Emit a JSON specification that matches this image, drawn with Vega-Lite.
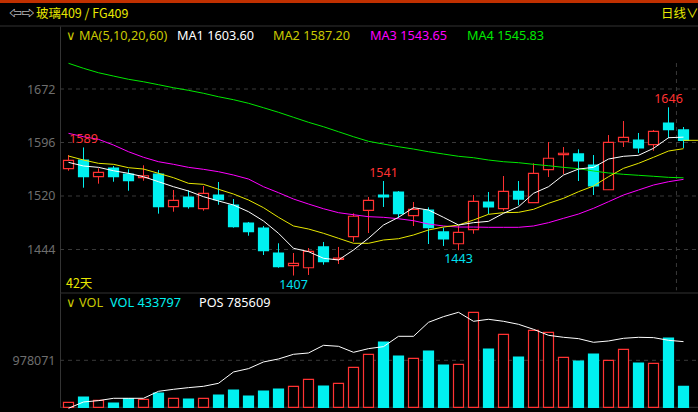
{
"$schema":"https://vega.github.io/schema/vega-lite/v6.json",
"width":698,"height":412,"padding":0,
"autosize":"none",
"background":"#000000",
"view":{"stroke":null},
"datasets":{
"bars":[
{"i":0,"dir":"up","open":1558.8,"close":1570.7,"high":1578.2,"low":1555.9,"ma1":1567.8,"ma2":1576.8,"ma3":1609,"ma4":1708.5,"vol":104000,"pos":89600},
{"i":1,"dir":"down","open":1571.1,"close":1547.4,"high":1589,"low":1531.8,"ma1":1562.6,"ma2":1571.1,"ma3":1604.2,"ma4":1701.4,"vol":214400,"pos":155700},
{"i":2,"dir":"up","open":1547.4,"close":1553.7,"high":1559.3,"low":1537.5,"ma1":1560.7,"ma2":1566.4,"ma3":1600.5,"ma4":1695.1,"vol":145700,"pos":169600},
{"i":3,"dir":"down","open":1559.8,"close":1547.4,"high":1562.6,"low":1540.3,"ma1":1555.9,"ma2":1565,"ma3":1592.4,"ma4":1690.4,"vol":89500,"pos":194000},
{"i":4,"dir":"down","open":1551.2,"close":1541.7,"high":1557.9,"low":1527.5,"ma1":1552.2,"ma2":1560.2,"ma3":1582.9,"ma4":1685.8,"vol":181100,"pos":194000},
{"i":5,"dir":"up","open":1546,"close":1548.8,"high":1563.6,"low":1541.7,"ma1":1547.4,"ma2":1558.3,"ma3":1575,"ma4":1682.3,"vol":166500,"pos":194000},
{"i":6,"dir":"down","open":1551.2,"close":1504.8,"high":1556.9,"low":1494.9,"ma1":1540.3,"ma2":1552.2,"ma3":1568.7,"ma4":1678.1,"vol":297600,"pos":267000},
{"i":7,"dir":"up","open":1504.8,"close":1513.9,"high":1528.5,"low":1497.7,"ma1":1533.2,"ma2":1546,"ma3":1565,"ma4":1673.8,"vol":187300,"pos":287900},
{"i":8,"dir":"down","open":1518.6,"close":1504.8,"high":1528.1,"low":1502,"ma1":1527.1,"ma2":1538,"ma3":1560.7,"ma4":1670.1,"vol":172700,"pos":305300},
{"i":9,"dir":"up","open":1502,"close":1523.8,"high":1534.2,"low":1499.1,"ma1":1519,"ma2":1536.6,"ma3":1557.9,"ma4":1665.9,"vol":187300,"pos":319200},
{"i":10,"dir":"down","open":1521.4,"close":1514.7,"high":1539.9,"low":1507.6,"ma1":1512.9,"ma2":1529.5,"ma3":1554.5,"ma4":1661,"vol":256000,"pos":350600},
{"i":11,"dir":"down","open":1507.2,"close":1476.4,"high":1515.7,"low":1475,"ma1":1507.2,"ma2":1522.8,"ma3":1549.8,"ma4":1656.8,"vol":360000,"pos":468900},
{"i":12,"dir":"down","open":1481.6,"close":1469.3,"high":1483.1,"low":1463.6,"ma1":1497.7,"ma2":1514.3,"ma3":1544.1,"ma4":1651.7,"vol":235200,"pos":503700},
{"i":13,"dir":"down","open":1474.5,"close":1442.3,"high":1477.4,"low":1436.2,"ma1":1484.5,"ma2":1503.4,"ma3":1533.2,"ma4":1645.4,"vol":339200,"pos":573300},
{"i":14,"dir":"down","open":1439,"close":1419.6,"high":1452.8,"low":1418.1,"ma1":1467,"ma2":1489.7,"ma3":1524.7,"ma4":1638.9,"vol":380900,"pos":604600},
{"i":15,"dir":"up","open":1421,"close":1424.4,"high":1439,"low":1407,"ma1":1445.7,"ma2":1477.4,"ma3":1515.7,"ma4":1631.8,"vol":437100,"pos":653300},
{"i":16,"dir":"up","open":1418.1,"close":1441.4,"high":1446.1,"low":1407.8,"ma1":1440.9,"ma2":1473.1,"ma3":1508.6,"ma4":1624.7,"vol":582700,"pos":667200},
{"i":17,"dir":"down","open":1447.6,"close":1426.7,"high":1454.7,"low":1422.4,"ma1":1431.5,"ma2":1467,"ma3":1501.9,"ma4":1618.4,"vol":443300,"pos":747300},
{"i":18,"dir":"up","open":1430.1,"close":1431.9,"high":1447.6,"low":1423.4,"ma1":1429.1,"ma2":1459.9,"ma3":1496.3,"ma4":1611.3,"vol":499500,"pos":736800},
{"i":19,"dir":"up","open":1462.2,"close":1491.2,"high":1495.4,"low":1455.1,"ma1":1443.3,"ma2":1452.8,"ma3":1493.4,"ma4":1604.2,"vol":832500,"pos":674200},
{"i":20,"dir":"up","open":1499.7,"close":1513.9,"high":1518.6,"low":1467.4,"ma1":1459.9,"ma2":1452.8,"ma3":1490.6,"ma4":1597.7,"vol":1103000,"pos":712500},
{"i":21,"dir":"down","open":1521.4,"close":1518.6,"high":1541.3,"low":1504.4,"ma1":1478.8,"ma2":1457.5,"ma3":1489.7,"ma4":1593.8,"vol":1359000,"pos":733400},
{"i":22,"dir":"down","open":1525.7,"close":1494.9,"high":1527.1,"low":1488.7,"ma1":1489.7,"ma2":1459.3,"ma3":1487.7,"ma4":1590,"vol":1067600,"pos":841200},
{"i":23,"dir":"up","open":1492,"close":1501.1,"high":1511.5,"low":1477.4,"ma1":1503.4,"ma2":1464.6,"ma3":1484.9,"ma4":1586.7,"vol":1019800,"pos":841200},
{"i":24,"dir":"down","open":1500.1,"close":1475,"high":1503.9,"low":1451.8,"ma1":1500.1,"ma2":1471.7,"ma3":1480.2,"ma4":1582.9,"vol":1171700,"pos":987400},
{"i":25,"dir":"down","open":1468.9,"close":1458.9,"high":1475,"low":1449,"ma1":1489.7,"ma2":1475.9,"ma3":1477.4,"ma4":1579.6,"vol":880300,"pos":1046600},
{"i":26,"dir":"up","open":1452.2,"close":1468.4,"high":1477.4,"low":1443,"ma1":1478.8,"ma2":1478.8,"ma3":1475.9,"ma4":1576.4,"vol":894900,"pos":1091800},
{"i":27,"dir":"up","open":1472.1,"close":1512.5,"high":1521.4,"low":1466.4,"ma1":1482.1,"ma2":1485.9,"ma3":1475.9,"ma4":1574.4,"vol":1977100,"pos":997800},
{"i":28,"dir":"down","open":1511.5,"close":1504.4,"high":1525.7,"low":1494.4,"ma1":1484,"ma2":1494,"ma3":1475.5,"ma4":1571.1,"vol":1213300,"pos":1018700},
{"i":29,"dir":"up","open":1502,"close":1526.7,"high":1548.4,"low":1499.1,"ma1":1495.4,"ma2":1496.3,"ma3":1475.5,"ma4":1568.7,"vol":1519300,"pos":997800},
{"i":30,"dir":"down","open":1526.7,"close":1515.7,"high":1541.3,"low":1506.8,"ma1":1504.8,"ma2":1496.8,"ma3":1475.5,"ma4":1567.3,"vol":1046800,"pos":966500},
{"i":31,"dir":"up","open":1510.5,"close":1552.2,"high":1566.4,"low":1510.5,"ma1":1523.8,"ma2":1501.1,"ma3":1477.4,"ma4":1565,"vol":1602500,"pos":914300},
{"i":32,"dir":"up","open":1557.4,"close":1573.6,"high":1596.7,"low":1547,"ma1":1533.2,"ma2":1509.6,"ma3":1482.1,"ma4":1563,"vol":1560900,"pos":851700},
{"i":33,"dir":"up","open":1578.7,"close":1580.7,"high":1589.6,"low":1551.2,"ma1":1549.8,"ma2":1516.7,"ma3":1488.3,"ma4":1560.7,"vol":1040600,"pos":830800},
{"i":34,"dir":"down","open":1579.7,"close":1569.7,"high":1586.3,"low":1541.3,"ma1":1558.3,"ma2":1526.1,"ma3":1494.4,"ma4":1558.8,"vol":963600,"pos":816900},
{"i":35,"dir":"down","open":1564,"close":1534.2,"high":1578.2,"low":1521.4,"ma1":1560.7,"ma2":1534.2,"ma3":1502.5,"ma4":1555.5,"vol":1109300,"pos":778600},
{"i":36,"dir":"up","open":1528.9,"close":1596.3,"high":1606.6,"low":1528.9,"ma1":1572.5,"ma2":1547.4,"ma3":1511.9,"ma4":1552.7,"vol":978200,"pos":792500},
{"i":37,"dir":"up","open":1597.1,"close":1603.4,"high":1626.5,"low":1589.6,"ma1":1576.4,"ma2":1559.3,"ma3":1521.4,"ma4":1550.8,"vol":1207100,"pos":820400},
{"i":38,"dir":"down","open":1599.5,"close":1588.2,"high":1609.5,"low":1581.1,"ma1":1577.8,"ma2":1566.4,"ma3":1528.5,"ma4":1549.4,"vol":922000,"pos":830800},
{"i":39,"dir":"up","open":1592.9,"close":1611.9,"high":1613.8,"low":1584.3,"ma1":1587.7,"ma2":1575,"ma3":1535.6,"ma4":1548,"vol":915700,"pos":827300},
{"i":40,"dir":"down","open":1623.7,"close":1614.2,"high":1646,"low":1602,"ma1":1602.8,"ma2":1583.9,"ma3":1540.3,"ma4":1546.5,"vol":1442300,"pos":799500},
{"i":41,"dir":"down","open":1613.8,"close":1599.1,"high":1618,"low":1588.2,"ma1":1603.6,"ma2":1587.2,"ma3":1543.65,"ma4":1545.83,"vol":433797,"pos":785609}
],
"priceText":[
{"label":"⇦⇨","i":-3.95,"price":1778.5,"role":"icon"},
{"label":"玻璃409 / FG409","i":-2.167,"price":1778.5,"role":"title"},
{"label":"日线∨","i":39.5,"price":1778.5,"role":"title"},
{"label":"42天","i":-0.167,"price":1395,"role":"title"}
],
"maText":[
{"label":"∨","i":-0.2,"price":1747.3,"role":"ma"},
{"label":"MA(5,10,20,60)","i":0.7,"price":1747.3,"role":"ma"},
{"label":"MA1 1603.60","i":7.233,"price":1747.3,"role":"ma1"},
{"label":"MA2 1587.20","i":13.633,"price":1747.3,"role":"ma"},
{"label":"MA3 1543.65","i":20.1,"price":1747.3,"role":"ma3"},
{"label":"MA4 1545.83","i":26.567,"price":1747.3,"role":"ma4"}
],
"volText":[
{"label":"∨","i":-0.2,"v":2170000,"role":"ma"},
{"label":"VOL","i":0.7,"v":2170000,"role":"ma"},
{"label":"VOL 433797","i":2.77,"v":2170000,"role":"vol"},
{"label":"POS 785609","i":8.7,"v":2170000,"role":"pos"}
],
"extremes":[
{"i":1,"price":1589,"label":"1589"},
{"i":21,"price":1541.3,"label":"1541"},
{"i":40,"price":1646,"label":"1646"}
],
"lows":[
{"i":15,"price":1407,"label":"1407"},
{"i":26,"price":1443,"label":"1443"}
],
"priceGrid":[{"price":1672,"i":-0.5667,"i2":41.9667},{"price":1596,"i":-0.5667,"i2":41.9667},{"price":1520,"i":-0.5667,"i2":41.9667},{"price":1444,"i":-0.5667,"i2":41.9667}],
"frame":[{"price":1761.5,"i":-4.5667,"i2":41.9667},{"price":1382.2,"i":-0.5667,"i2":41.9667}],
"topBar":[{"price":1797,"i":-4.5667,"i2":41.9667}],
"lastClose":[{"price":1599.1,"i":40.97,"i2":41.9667}],
"cursor":[{"i":40.53,"price":1708.9,"p2":1386}],
"volGrid":[{"v":978071,"i":-0.5667,"i2":41.9667}],
"volBase":[{"v":0,"i":-0.5667,"i2":41.9667}]
},
"encoding":{
"x":{"field":"i","type":"quantitative","scale":{"domain":[-4.5667,41.9667],"nice":false,"zero":false,"padding":0},"axis":null}
},
"layer":[
{
"encoding":{"y":{"field":"price","type":"quantitative","scale":{"domain":[1382.2,1761.5],"range":[293,26],"nice":false,"zero":false,"padding":0},
"axis":{"orient":"left","offset":-60,"title":null,"values":[1672,1596,1520,1444],"format":"d","grid":false,"ticks":false,"domain":true,"domainColor":"#333333","labelColor":"#6e6e6e","labelFont":"Noto Sans","labelFontSize":12.5,"labelPadding":5}}},
"layer":[
{"data":{"name":"priceGrid"},
 "mark":{"type":"rule","stroke":"#3a3a3a","strokeDash":[4,4],"strokeWidth":1},
 "encoding":{"x2":{"field":"i2"}}},
{"data":{"name":"cursor"},
 "mark":{"type":"rule","stroke":"#3a3a3a","strokeDash":[4,4],"strokeWidth":1},
 "encoding":{"y2":{"field":"p2"}}},
{"data":{"name":"frame"},
 "mark":{"type":"rule","stroke":"#333333","strokeWidth":1},
 "encoding":{"x2":{"field":"i2"}}},
{"data":{"name":"topBar"},
 "mark":{"type":"rule","stroke":"#c03000","strokeWidth":4},
 "encoding":{"x2":{"field":"i2"}}},
{"data":{"name":"bars"},"mark":{"type":"rule","strokeWidth":1},
 "encoding":{"y":{"field":"high","type":"quantitative"},"y2":{"field":"low"},
 "stroke":{"field":"dir","type":"nominal","scale":{"domain":["up","down"],"range":["#ff3232","#00f0f0"]},"legend":null}}},
{"data":{"name":"bars"},"mark":{"type":"bar","size":10,"strokeWidth":1.2},
 "encoding":{"y":{"field":"open","type":"quantitative"},"y2":{"field":"close"},
 "stroke":{"field":"dir","type":"nominal","scale":{"domain":["up","down"],"range":["#ff3232","#00f0f0"]},"legend":null},
 "fill":{"field":"dir","type":"nominal","scale":{"domain":["up","down"],"range":["#000000","#00f0f0"]},"legend":null}}},
{"data":{"name":"bars"},"mark":{"type":"line","stroke":"#00e800","strokeWidth":1},"encoding":{"y":{"field":"ma4","type":"quantitative"}}},
{"data":{"name":"bars"},"mark":{"type":"line","stroke":"#ff00ff","strokeWidth":1},"encoding":{"y":{"field":"ma3","type":"quantitative"}}},
{"data":{"name":"bars"},"mark":{"type":"line","stroke":"#e8e800","strokeWidth":1},"encoding":{"y":{"field":"ma2","type":"quantitative"}}},
{"data":{"name":"bars"},"mark":{"type":"line","stroke":"#ffffff","strokeWidth":1},"encoding":{"y":{"field":"ma1","type":"quantitative"}}},
{"data":{"name":"lastClose"},
 "mark":{"type":"rule","stroke":"#e8e800","strokeWidth":1},
 "encoding":{"x2":{"field":"i2"}}},
{"data":{"name":"extremes"},"mark":{"type":"text","dy":-8,"font":"Noto Sans","fontSize":12.5,"fill":"#ff3232"},"encoding":{"text":{"field":"label"}}},
{"data":{"name":"lows"},"mark":{"type":"text","dy":9,"font":"Noto Sans","fontSize":12.5,"fill":"#00e0f0"},"encoding":{"text":{"field":"label"}}},
{"data":{"name":"maText"},"mark":{"type":"text","align":"left","baseline":"middle","font":"Noto Sans","fontSize":12.7},
 "encoding":{"text":{"field":"label"},
 "color":{"field":"role","type":"nominal","scale":{"domain":["ma","ma1","ma3","ma4","icon","title"],"range":["#c8c800","#ffffff","#ff00ff","#00e800","#ffffff","#e8e800"]},"legend":null}}},
{"data":{"name":"priceText"},"mark":{"type":"text","align":"left","baseline":"middle","font":"Noto Sans CJK SC","fontSize":12.5},
 "encoding":{"text":{"field":"label"},
 "color":{"field":"role","type":"nominal","scale":{"domain":["ma","ma1","ma3","ma4","icon","title"],"range":["#c8c800","#ffffff","#ff00ff","#00e800","#ffffff","#e8e800"]},"legend":null}}}
]
},
{
"encoding":{"y":{"field":"v","type":"quantitative","scale":{"domain":[0,2379000],"range":[407.3,293],"nice":false,"zero":false,"padding":0},
"axis":{"orient":"left","offset":-60,"title":null,"values":[978071],"format":"d","grid":false,"ticks":false,"domain":true,"domainColor":"#333333","labelColor":"#6e6e6e","labelFont":"Noto Sans","labelFontSize":12.5,"labelPadding":5}}},
"layer":[
{"data":{"name":"volGrid"},
 "mark":{"type":"rule","stroke":"#3a3a3a","strokeDash":[4,4],"strokeWidth":1},
 "encoding":{"x2":{"field":"i2"}}},
{"data":{"name":"volBase"},
 "mark":{"type":"rule","stroke":"#333333","strokeWidth":1},
 "encoding":{"x2":{"field":"i2"}}},
{"data":{"name":"bars"},"mark":{"type":"bar","size":10,"strokeWidth":1.2},
 "encoding":{"y":{"field":"vol","type":"quantitative","stack":null},
 "stroke":{"field":"dir","type":"nominal","scale":{"domain":["up","down"],"range":["#ff3232","#00f0f0"]},"legend":null},
 "fill":{"field":"dir","type":"nominal","scale":{"domain":["up","down"],"range":["#000000","#00f0f0"]},"legend":null}}},
{"data":{"name":"volText"},"mark":{"type":"text","align":"left","baseline":"middle","font":"Noto Sans","fontSize":12.7},
 "encoding":{"text":{"field":"label"},
 "color":{"field":"role","type":"nominal","scale":{"domain":["ma","vol","pos"],"range":["#c8c800","#00f0f0","#ffffff"]},"legend":null}}}
]
},
{
"data":{"name":"bars"},
"mark":{"type":"line","stroke":"#ffffff","strokeWidth":1},
"encoding":{"y":{"field":"pos","type":"quantitative","scale":{"domain":[100000,1293300],"range":[407.3,293],"nice":false,"zero":false,"padding":0},"axis":null}}
}
],
"resolve":{"scale":{"y":"independent","color":"independent","fill":"independent","stroke":"independent"},"axis":{"y":"independent"}}
}
